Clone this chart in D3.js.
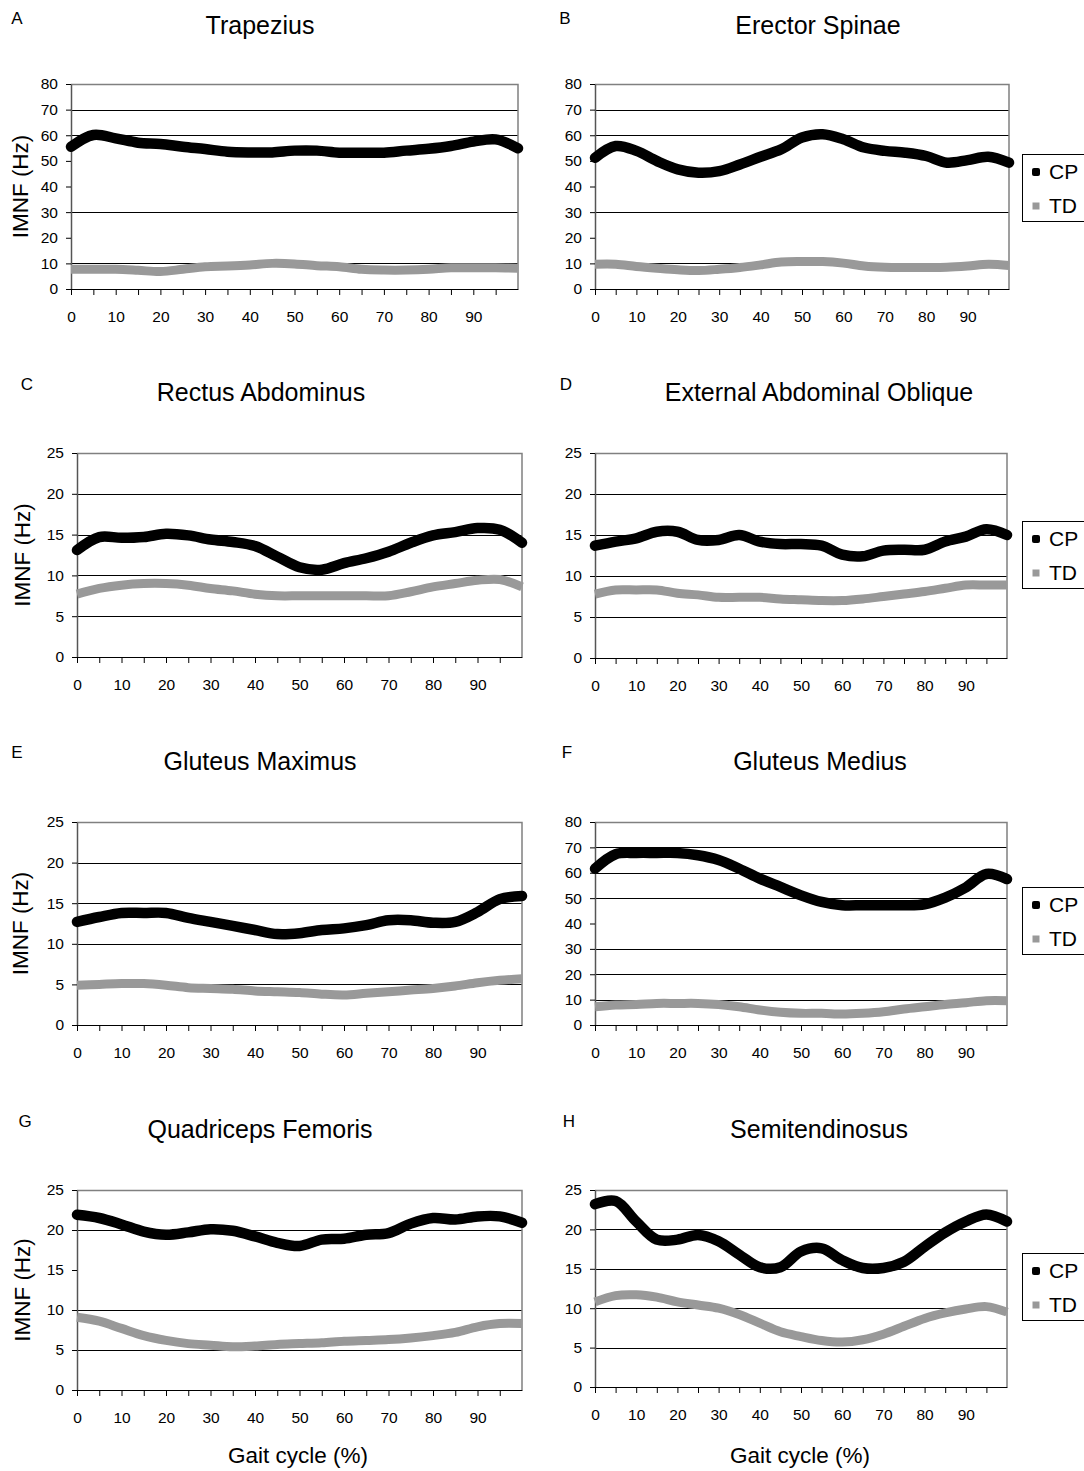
<!DOCTYPE html>
<html>
<head>
<meta charset="utf-8">
<script src="https://cdn.jsdelivr.net/npm/d3@7"></script>
<style>
body { margin: 0; background: #fff; }
svg { display: block; background: #fff; }
text { font-family: "Liberation Sans", Arial, sans-serif; fill: #000; }
</style>
</head>
<body>
<svg id="chart" width="1084" height="1471"></svg>
<script>
// gait cycle positions (%), one value every 5 %
var gait = d3.range(0, 101, 5);

// IMNF (Hz), CP = cerebral palsy, TD = typically developing
var trapeziusCP = [55.5, 60.1, 58.8, 57.1, 56.6, 55.5, 54.6, 53.6, 53.3, 53.3, 54, 54, 53.2, 53.2, 53.2, 54, 54.7, 55.8, 57.5, 58.4, 54.9];
var trapeziusTD = [7.7, 7.7, 7.7, 7.3, 6.8, 7.7, 8.7, 9, 9.4, 10, 9.8, 9.1, 8.7, 7.7, 7.4, 7.4, 7.7, 8.3, 8.3, 8.3, 8.1];
var erectorCP = [51.2, 55.8, 53.9, 49.9, 46.7, 45.4, 46, 48.6, 51.6, 54.5, 59.1, 60.4, 58.4, 55.2, 53.9, 53.2, 51.9, 49.3, 50.3, 51.6, 49.3];
var erectorTD = [9.7, 9.7, 8.8, 8.1, 7.5, 7.2, 7.7, 8.4, 9.4, 10.5, 10.7, 10.7, 10.1, 9, 8.5, 8.4, 8.4, 8.5, 9, 9.7, 9.2];
var rectusCP = [13.1, 14.7, 14.6, 14.7, 15.1, 14.9, 14.4, 14.1, 13.6, 12.3, 11, 10.7, 11.5, 12.1, 12.9, 14, 14.9, 15.3, 15.8, 15.6, 14];
var rectusTD = [7.7, 8.4, 8.8, 9, 9, 8.8, 8.4, 8.1, 7.7, 7.5, 7.5, 7.5, 7.5, 7.5, 7.5, 8, 8.6, 9, 9.4, 9.5, 8.6];
var obliqueCP = [13.7, 14.2, 14.6, 15.4, 15.4, 14.4, 14.4, 15, 14.2, 13.9, 13.9, 13.7, 12.6, 12.4, 13.1, 13.2, 13.2, 14.2, 14.8, 15.7, 15];
var obliqueTD = [7.8, 8.3, 8.3, 8.3, 7.9, 7.7, 7.4, 7.4, 7.4, 7.2, 7.1, 7, 7, 7.2, 7.5, 7.8, 8.1, 8.5, 8.9, 8.9, 8.9];
var glutMaxCP = [12.7, 13.3, 13.8, 13.8, 13.8, 13.2, 12.7, 12.2, 11.7, 11.2, 11.3, 11.7, 11.9, 12.3, 12.9, 12.9, 12.6, 12.7, 13.9, 15.5, 15.9];
var glutMaxTD = [4.9, 5, 5.1, 5.1, 4.9, 4.6, 4.5, 4.4, 4.2, 4.1, 4, 3.8, 3.7, 3.9, 4.1, 4.3, 4.5, 4.8, 5.2, 5.5, 5.7];
var glutMedCP = [61.6, 67.3, 67.8, 67.8, 67.8, 66.9, 65, 61.6, 57.7, 54.4, 51.1, 48.5, 47.2, 47.2, 47.2, 47.2, 47.6, 50.2, 54.2, 59.5, 57.5];
var glutMedTD = [7.2, 7.9, 8.1, 8.5, 8.5, 8.5, 8.1, 7.2, 5.9, 5, 4.6, 4.6, 4.3, 4.6, 5.2, 6.3, 7.2, 8.1, 8.8, 9.6, 9.6];
var quadCP = [21.9, 21.5, 20.7, 19.8, 19.4, 19.7, 20.1, 19.9, 19.2, 18.4, 18, 18.8, 18.9, 19.4, 19.6, 20.8, 21.5, 21.3, 21.7, 21.7, 20.9];
var quadTD = [9.1, 8.6, 7.7, 6.8, 6.2, 5.8, 5.6, 5.4, 5.5, 5.7, 5.8, 5.9, 6.1, 6.2, 6.3, 6.5, 6.8, 7.2, 7.9, 8.3, 8.3];
var semitCP = [23.2, 23.6, 21, 18.7, 18.7, 19.3, 18.5, 16.8, 15.2, 15.2, 17.2, 17.6, 16.1, 15.1, 15.1, 15.9, 17.8, 19.6, 21, 21.9, 21];
var semitTD = [10.8, 11.6, 11.7, 11.4, 10.8, 10.4, 10, 9.2, 8.1, 7, 6.4, 5.9, 5.7, 6, 6.7, 7.7, 8.7, 9.4, 9.9, 10.2, 9.5];

// axis ticks
var ticks80 = [0, 10, 20, 30, 40, 50, 60, 70, 80];
var ticks25 = [0, 5, 10, 15, 20, 25];
var xTicks = d3.range(0, 100, 5);
var xLabels = [0, 10, 20, 30, 40, 50, 60, 70, 80, 90];
var seriesNames = ['CP', 'TD'];

// panel layout on the page
var panels = [
	{letter: 'A', title: 'Trapezius', cp: trapeziusCP, td: trapeziusTD, ticks: ticks80, grid: [10, 30, 60, 70],
		left: 71, right: 518, top: 84, bottom: 289, titleX: 260, titleY: 25, letterX: 17, letterY: 18, ylabel: 20, legend: null},
	{letter: 'B', title: 'Erector Spinae', cp: erectorCP, td: erectorTD, ticks: ticks80, grid: [10, 30, 60, 70],
		left: 595, right: 1009, top: 84, bottom: 289, titleX: 818, titleY: 25, letterX: 565, letterY: 18, ylabel: null, legend: 154},
	{letter: 'C', title: 'Rectus Abdominus', cp: rectusCP, td: rectusTD, ticks: ticks25, grid: [5, 10, 15, 20],
		left: 77, right: 522, top: 453, bottom: 657, titleX: 261, titleY: 392, letterX: 27, letterY: 384, ylabel: 22, legend: null},
	{letter: 'D', title: 'External Abdominal Oblique', cp: obliqueCP, td: obliqueTD, ticks: ticks25, grid: [5, 10, 15, 20],
		left: 595, right: 1007, top: 453, bottom: 658, titleX: 819, titleY: 392, letterX: 566, letterY: 384, ylabel: null, legend: 521},
	{letter: 'E', title: 'Gluteus Maximus', cp: glutMaxCP, td: glutMaxTD, ticks: ticks25, grid: [5, 10, 15, 20],
		left: 77, right: 522, top: 822, bottom: 1025, titleX: 260, titleY: 761, letterX: 17, letterY: 752, ylabel: 20, legend: null},
	{letter: 'F', title: 'Gluteus Medius', cp: glutMedCP, td: glutMedTD, ticks: ticks80, grid: [10, 20, 30, 50, 60, 70],
		left: 595, right: 1007, top: 822, bottom: 1025, titleX: 820, titleY: 761, letterX: 567, letterY: 752, ylabel: null, legend: 887},
	{letter: 'G', title: 'Quadriceps Femoris', cp: quadCP, td: quadTD, ticks: ticks25, grid: [5, 10, 20],
		left: 77, right: 522, top: 1190, bottom: 1390, titleX: 260, titleY: 1129, letterX: 25, letterY: 1121, ylabel: 22, legend: null, xtitle: 298},
	{letter: 'H', title: 'Semitendinosus', cp: semitCP, td: semitTD, ticks: ticks25, grid: [5, 10, 15, 20],
		left: 595, right: 1007, top: 1190, bottom: 1387, titleX: 819, titleY: 1129, letterX: 569, letterY: 1121, ylabel: null, legend: 1253, xtitle: 800}
];

var svg = d3.select('#chart');
var FONT = '"Liberation Sans", Arial, sans-serif';

function drawPanel(p)
{
	var g = svg.append('g').attr('id', 'panel_' + p.letter);
	var yMax = d3.max(p.ticks);
	var x = d3.scaleLinear().domain([0, 100]).range([p.left, p.right]);
	var y = d3.scaleLinear().domain([0, yMax]).range([p.bottom, p.top]);

	// panel letter and title
	g.append('text').attr('x', p.letterX).attr('y', p.letterY + 6)
		.attr('text-anchor', 'middle').style('font-size', '17px').text(p.letter);
	g.append('text').attr('x', p.titleX).attr('y', p.titleY + 9)
		.attr('text-anchor', 'middle').style('font-size', '25px').text(p.title);

	// gridlines
	g.append('g').selectAll('line').data(p.grid).enter().append('line')
		.attr('x1', x(0)).attr('x2', x(100))
		.attr('y1', d => Math.round(y(d)) + 0.5).attr('y2', d => Math.round(y(d)) + 0.5)
		.attr('stroke', '#000').attr('stroke-width', 1);

	// plot frame, top and right
	g.append('path')
		.attr('d', 'M' + x(0) + ',' + (Math.round(y(yMax)) + 0.5) + 'H' + x(100) + 'V' + y(0))
		.attr('fill', 'none').attr('stroke', '#808080').attr('stroke-width', 1.5);

	// y axis
	var yAxis = d3.axisLeft(y).tickValues(p.ticks).tickSize(5).tickSizeOuter(0).tickPadding(8);
	var ya = g.append('g').attr('transform', 'translate(' + x(0) + ',0)').call(yAxis);
	ya.attr('font-family', FONT).attr('font-size', 15.5);
	ya.select('.domain').attr('stroke', '#555').attr('stroke-width', 1.5);
	ya.selectAll('.tick line').attr('stroke', '#000');

	// x axis
	var xAxis = d3.axisBottom(x).tickValues(xTicks).tickSize(6).tickSizeOuter(0).tickPadding(16)
		.tickFormat(d => xLabels.indexOf(d) >= 0 ? d : '');
	var xa = g.append('g').attr('transform', 'translate(0,' + y(0) + ')').call(xAxis);
	xa.attr('font-family', FONT).attr('font-size', 15.5);
	xa.select('.domain').attr('stroke', '#000').attr('stroke-width', 1.2);
	xa.selectAll('.tick line').attr('stroke', '#000');

	// y label
	if (p.ylabel !== null) {
		var cy = (p.top + p.bottom) / 2;
		g.append('text').attr('transform', 'translate(' + (p.ylabel + 8) + ',' + cy + ') rotate(-90)')
			.attr('text-anchor', 'middle').style('font-size', '22.5px').text('IMNF (Hz)');
	}
	if (p.xtitle) {
		g.append('text').attr('x', p.xtitle).attr('y', 1463)
			.attr('text-anchor', 'middle').style('font-size', '22.5px').text('Gait cycle (%)');
	}

	// series
	var line = d3.line()
		.x((d, i) => x(gait[i]))
		.y(d => y(d))
		.curve(d3.curveCatmullRom.alpha(0.5));
	g.append('path').attr('d', line(p.td))
		.attr('fill', 'none').attr('stroke', '#999').attr('stroke-width', 9)
		.attr('stroke-linejoin', 'round');
	g.append('path').attr('d', line(p.cp))
		.attr('fill', 'none').attr('stroke', '#000').attr('stroke-width', 10.5)
		.attr('stroke-linecap', 'round').attr('stroke-linejoin', 'round');

	// legend
	if (p.legend !== null) {
		var lg = g.append('g').attr('transform', 'translate(1022,' + p.legend + ')');
		lg.append('rect').attr('x', 0.5).attr('y', 0.5).attr('width', 90).attr('height', 67)
			.attr('fill', '#fff').attr('stroke', '#000').attr('stroke-width', 1);
		var items = lg.selectAll('g.item').data(seriesNames).enter().append('g')
			.attr('transform', (d, i) => 'translate(0,' + (18 + i * 34) + ')');
		items.append('rect')
			.attr('x', d => d == 'CP' ? 10 : 10.5).attr('y', d => d == 'CP' ? -4 : -3.5)
			.attr('width', d => d == 'CP' ? 8 : 7).attr('height', d => d == 'CP' ? 8 : 7)
			.attr('rx', d => d == 'CP' ? 2 : 0)
			.attr('fill', d => d == 'CP' ? '#000' : '#999');
		items.append('text').attr('x', 27).attr('y', 7)
			.style('font-size', '21px').text(d => d);
	}
}

panels.forEach(drawPanel);
</script>
</body>
</html>
